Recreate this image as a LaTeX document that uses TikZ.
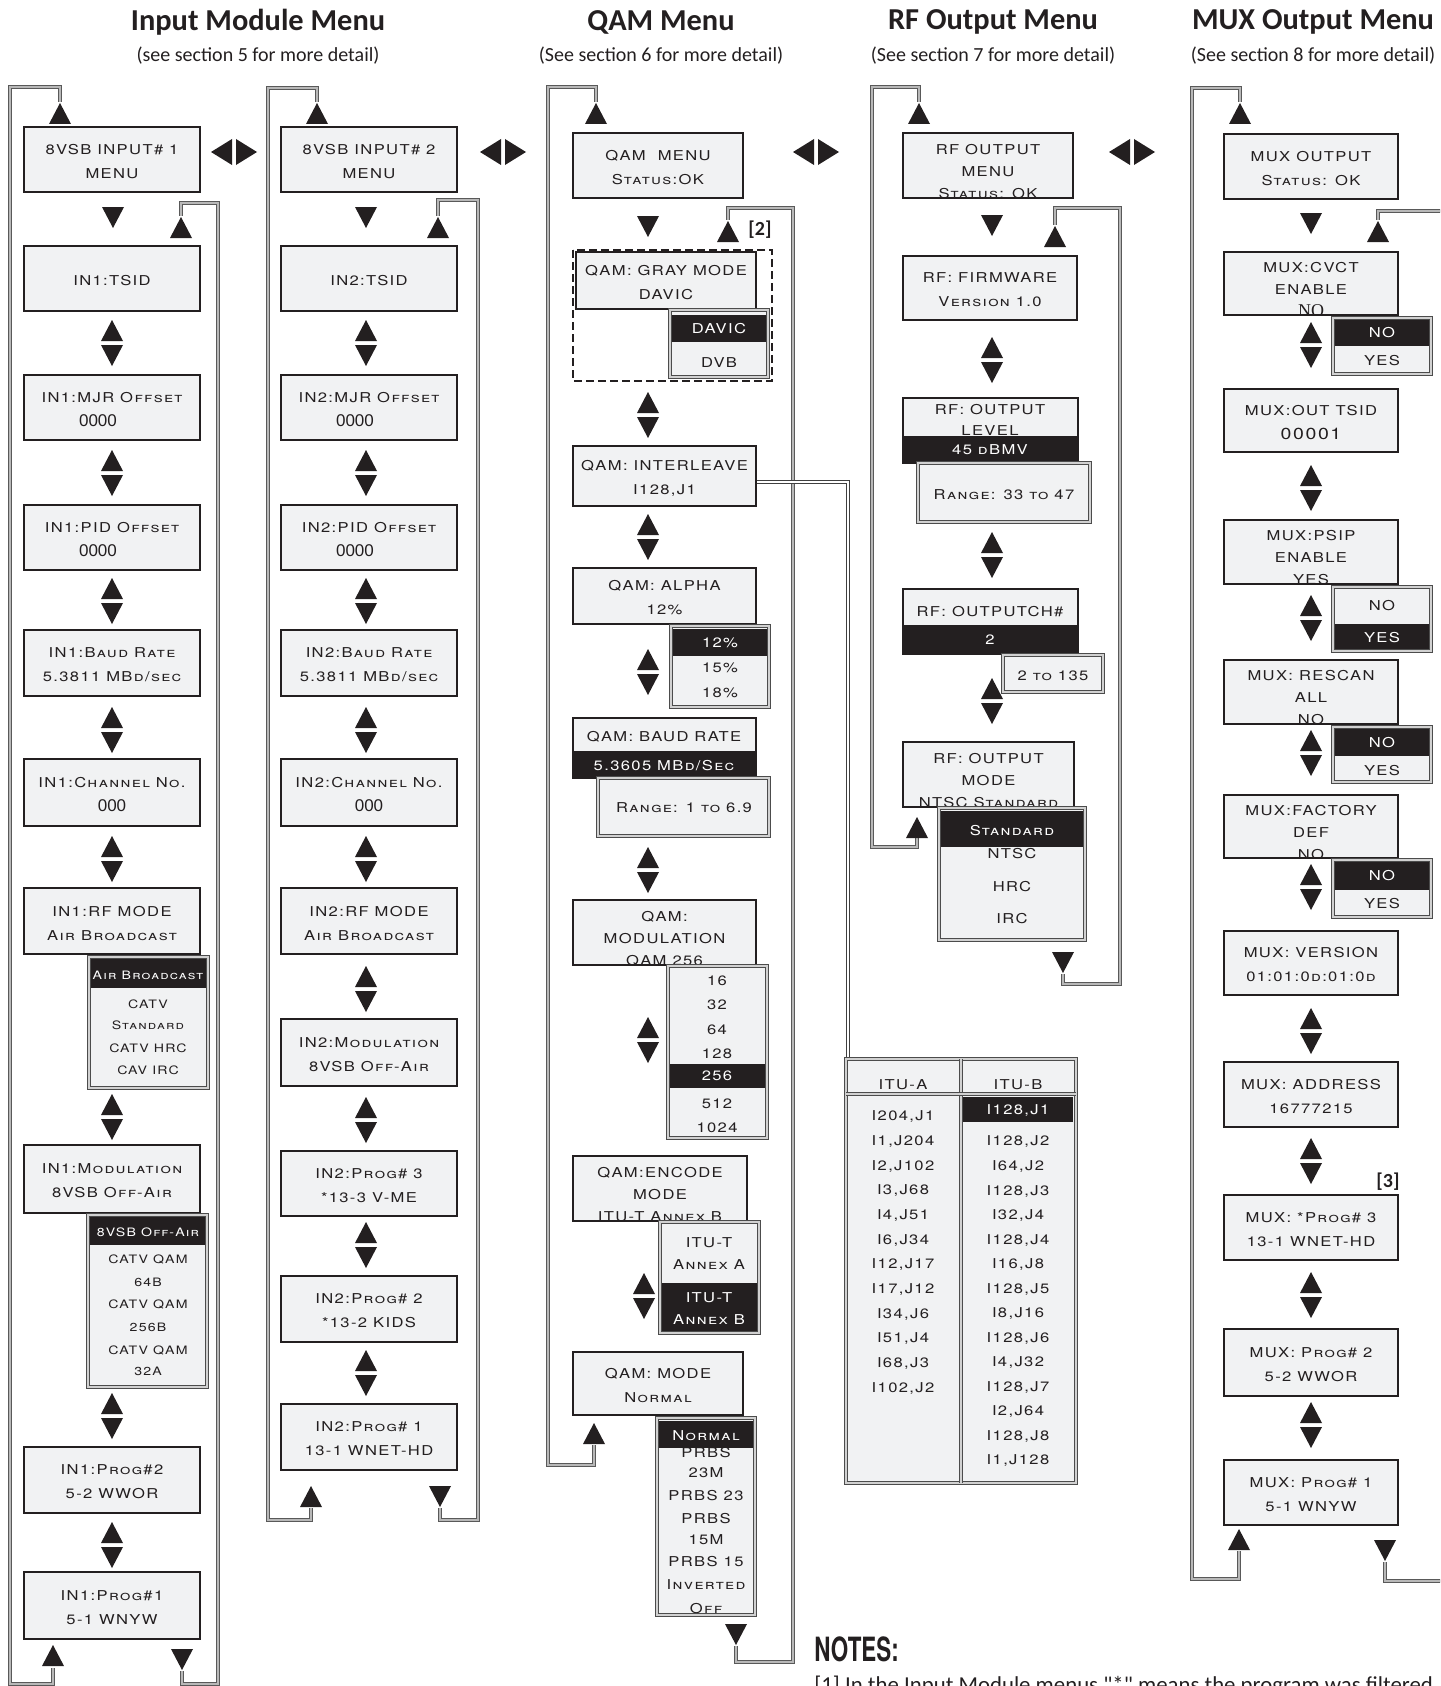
\documentclass[tikz,border=0pt]{standalone}
\usepackage{fontspec}
\usepackage{graphicx}
\newfontfamily\lcdfont[LetterSpace=10,FakeStretch=1.22]{TeX Gyre Heros}
\newfontfamily\carl{Carlito}
\newfontfamily\serfont{Liberation Serif}
\newfontfamily\arialf{Liberation Sans}
\newfontfamily\heavy{TeX Gyre Heros}
\definecolor{lcdbg}{HTML}{F1F2F3}
\definecolor{ink}{HTML}{231F20}
\tikzset{
 lcdline/.style={draw=ink, line width=1.3pt},
 txt/.style={font=\lcdfont\fontsize{6.8}{12}\selectfont\scshape, inner sep=0pt, align=center, text=ink},
 three/.style={font=\lcdfont\fontsize{6.8}{11}\selectfont\scshape},
 smalltxt/.style={font=\lcdfont\fontsize{5.8}{10}\selectfont\scshape},
 wt/.style={text=white},
 ddline/.style={draw=black!70, double=black!18, line width=0.45pt, double distance=0.9pt},
 loopline/.style={draw=black!65, double=black!28, line width=0.4pt, double distance=1.2pt},
 tri/.style={fill=ink},
 title/.style={font=\carl\bfseries\fontsize{15.2}{18}\selectfont, text=ink, inner sep=0pt},
 subtitle/.style={font=\carl\fontsize{10}{12}\selectfont, text=ink, inner sep=0pt},
 conn/.style={draw=black!75, double=white, line width=0.45pt, double distance=1.1pt},
 refmark/.style={font=\carl\bfseries\fontsize{10}{12}\selectfont, text=ink, inner sep=0pt},
}
\newcommand\lcdbox[7][]{%
 \fill[lcdbg] (#3,#4) rectangle (#5,#6);
 \begin{scope}
 \clip (#3,#4) rectangle (#5,#6);
 \node[txt,yshift=-1pt,#1] (#2) at ({(#3+#5)/2},{(#4+#6)/2}) {#7};
 \end{scope}
 \draw[lcdline] (#3,#4) rectangle (#5,#6);}
\newcommand\dd[6]{%
 \fill[lcdbg] (#1,#2) rectangle (#3,#4);
 \fill[ink] (#1,#5) rectangle (#3,#6);
 \draw[ddline] (#1,#2) rectangle (#3,#4);}
\newcommand\ditem[5][]{\node[txt,#1] (#2) at (#3,#4) {#5};}
\newcommand\tup[2]{\fill[tri] ({#1-11},{#2+21}) -- ({#1+11},{#2+21}) -- (#1,{#2}) -- cycle;}
\newcommand\tdn[2]{\fill[tri] ({#1-11},{#2}) -- ({#1+11},{#2}) -- (#1,{#2+21}) -- cycle;}
\newcommand\tud[2]{\tup{#1}{#2}\tdn{#1}{#2+25}}
\newcommand\tlr[2]{\fill[tri] ({#1-2},{#2-13}) -- ({#1-2},{#2+13}) -- ({#1-23},{#2}) -- cycle;
 \fill[tri] ({#1+2},{#2-13}) -- ({#1+2},{#2+13}) -- ({#1+23},{#2}) -- cycle;}
\newcommand\zz{\upshape\arialf\fontsize{8.5}{12}\selectfont}
\begin{document}
\begin{tikzpicture}[x=0.5pt,y=-0.5pt]
\useasboundingbox (0,0) rectangle (1440,1686);
\clip (0,0) rectangle (1440,1686);
% titles
\node[title] (t1) at (258,22) {Input Module Menu};
\node[subtitle] (s1) at (258,56) {(see section 5 for more detail)};
\node[title] (t2) at (661,22) {QAM Menu};
\node[subtitle] (s2) at (661,56) {(See section 6 for more detail)};
\node[title] (t3) at (993,22) {RF Output Menu};
\node[subtitle] (s3) at (993,56) {(See section 7 for more detail)};
\node[title] (t4) at (1313,22) {MUX Output Menu};
\node[subtitle] (s4) at (1313,56) {(See section 8 for more detail)};
% loops
\draw[loopline] (60,102) -- (60,87) -- (10,87) -- (10,1684) -- (53,1684) -- (53,1668);
\draw[loopline] (182,1671) -- (182,1684) -- (218,1684) -- (218,203) -- (181,203) -- (181,216);
\draw[loopline] (317,102) -- (317,88) -- (268,88) -- (268,1520) -- (311,1520) -- (311,1508);
\draw[loopline] (440,1508) -- (440,1520) -- (478,1520) -- (478,200) -- (438,200) -- (438,216);
\draw[loopline] (596,102) -- (596,87) -- (548,87) -- (548,1465) -- (594,1465) -- (594,1445);
\draw[loopline] (736,1646) -- (736,1662) -- (793,1662) -- (793,208) -- (728,208) -- (728,220);
\draw[loopline] (919,102) -- (919,87) -- (872,87) -- (872,847) -- (917,847) -- (917,838);
\draw[loopline] (1063,974) -- (1063,984) -- (1120,984) -- (1120,208) -- (1055,208) -- (1055,225);
\draw[loopline] (1240,102) -- (1240,88) -- (1192,88) -- (1192,1579) -- (1239,1579) -- (1239,1551);
\draw[loopline] (1378,220) -- (1378,211) -- (1460,211);
\draw[loopline] (1385,1562) -- (1385,1581) -- (1460,1581);
% interleave connector
\coordinate (q3r) at (756,482);
\coordinate (tabtop) at (848,1059);
\draw[conn] (q3r) -| (tabtop);
% ===== column 1
\lcdbox{a1}{24}{127}{200}{192}{8VSB INPUT\# 1\\MENU}
\lcdbox{a2}{24}{246}{200}{311}{IN1:TSID}
\lcdbox{a3}{24}{375}{200}{440}{IN1:MJR Offset\\\hspace*{-14pt}{\zz 0000}}
\lcdbox{a4}{24}{505}{200}{570}{IN1:PID Offset\\\hspace*{-14pt}{\zz 0000}}
\lcdbox{a5}{24}{630}{200}{696}{IN1:Baud Rate\\5.3811 MBd/sec}
\lcdbox{a6}{24}{759}{200}{826}{IN1:Channel No.\\{\zz 000}}
\lcdbox{a7}{24}{888}{200}{954}{IN1:RF MODE\\Air Broadcast}
\dd{89}{957}{208}{1088}{959}{988}
\ditem[smalltxt,wt]{a7d1}{148}{975}{Air Broadcast}
\ditem[smalltxt]{a7d2}{148}{1004}{CATV}
\ditem[smalltxt]{a7d3}{148}{1025}{Standard}
\ditem[smalltxt]{a7d4}{148}{1048}{CATV HRC}
\ditem[smalltxt]{a7d5}{148}{1070}{CAV IRC}
\lcdbox{a8}{24}{1145}{200}{1213}{IN1:Modulation\\8VSB Off-Air}
\dd{88}{1215}{207}{1387}{1217}{1245}
\ditem[smalltxt,wt]{a8d1}{148}{1232}{8VSB Off-Air}
\ditem[smalltxt]{a8d2}{148}{1259}{CATV QAM}
\ditem[smalltxt]{a8d3}{148}{1282}{64B}
\ditem[smalltxt]{a8d4}{148}{1304}{CATV QAM}
\ditem[smalltxt]{a8d5}{148}{1327}{256B}
\ditem[smalltxt]{a8d6}{148}{1350}{CATV QAM}
\ditem[smalltxt]{a8d7}{148}{1371}{32A}
\lcdbox{a9}{24}{1447}{200}{1513}{IN1:Prog\#2\\5-2 WWOR}
\lcdbox{a10}{24}{1572}{200}{1639}{IN1:Prog\#1\\5-1 WNYW}
\tup{60}{103}\tdn{113}{207}\tup{181}{217}
\tud{112}{320}\tud{112}{450}\tud{112}{578}\tud{112}{707}\tud{112}{836}
\tud{112}{1094}\tud{112}{1393}\tud{112}{1522}
\tup{53}{1645}\tdn{182}{1649}
\tlr{234}{152}
% ===== column 2
\lcdbox{b1}{281}{127}{457}{192}{8VSB INPUT\# 2\\MENU}
\lcdbox{b2}{281}{246}{457}{311}{IN2:TSID}
\lcdbox{b3}{281}{375}{457}{440}{IN2:MJR Offset\\\hspace*{-14pt}{\zz 0000}}
\lcdbox{b4}{281}{505}{457}{570}{IN2:PID Offset\\\hspace*{-14pt}{\zz 0000}}
\lcdbox{b5}{281}{630}{457}{696}{IN2:Baud Rate\\5.3811 MBd/sec}
\lcdbox{b6}{281}{759}{457}{826}{IN2:Channel No.\\{\zz 000}}
\lcdbox{b7}{281}{888}{457}{954}{IN2:RF MODE\\Air Broadcast}
\lcdbox{b8}{281}{1019}{457}{1086}{IN2:Modulation\\8VSB Off-Air}
\lcdbox{b9}{281}{1151}{457}{1216}{IN2:Prog\# 3\\*13-3 V-ME}
\lcdbox{b10}{281}{1276}{457}{1342}{IN2:Prog\# 2\\*13-2 KIDS}
\lcdbox{b11}{281}{1404}{457}{1470}{IN2:Prog\# 1\\13-1 WNET-HD}
\tup{317}{103}\tdn{366}{207}\tup{438}{217}
\tud{366}{320}\tud{366}{450}\tud{366}{578}\tud{366}{707}\tud{366}{836}
\tud{366}{966}\tud{366}{1097}\tud{366}{1222}\tud{366}{1350}
\tup{311}{1486}\tdn{440}{1486}
\tlr{503}{152}
% ===== QAM column
\lcdbox{q1}{573}{133}{743}{198}{QAM\ \ MENU\\Status:OK}
\draw[ink, line width=0.8pt, dash pattern=on 4pt off 2pt] (573,250) rectangle (772,381);
\lcdbox{q2}{576}{252}{756}{309}{QAM: GRAY MODE\\DAVIC}
\dd{670}{310}{768}{377}{315}{342}
\ditem[wt]{q2d1}{719}{329}{DAVIC}
\ditem{q2d2}{719}{363}{DVB}
\lcdbox{q3}{573}{446}{756}{506}{QAM: INTERLEAVE\\I128,J1}
\lcdbox{q4}{573}{568}{756}{624}{QAM: ALPHA\\12\%}
\dd{671}{626}{769}{707}{629}{656}
\ditem[wt]{q4d1}{720}{643}{12\%}
\ditem{q4d2}{720}{668}{15\%}
\ditem{q4d3}{720}{693}{18\%}
\fill[lcdbg] (573,718) rectangle (756,778);
\node[txt] (q5a) at (664,737) {QAM: BAUD RATE};
\fill[ink] (573,751) rectangle (756,778);
\node[txt,wt] (q5b) at (664,766) {5.3605 MBd/Sec};
\draw[lcdline] (573,718) rectangle (756,778);
\dd{598}{778}{769}{836}{778}{778}
\ditem{q5d}{684}{808}{Range: 1 to 6.9}
\lcdbox[three,yshift=-2pt]{q6}{573}{900}{756}{965}{QAM:\\MODULATION\\QAM 256}
\dd{668}{966}{767}{1138}{1064}{1088}
\ditem{q6d1}{717}{981}{16}
\ditem{q6d2}{717}{1005}{32}
\ditem{q6d3}{717}{1030}{64}
\ditem{q6d4}{717}{1054}{128}
\ditem[wt]{q6d5}{717}{1076}{256}
\ditem{q6d6}{717}{1104}{512}
\ditem{q6d7}{717}{1128}{1024}
\lcdbox[three,yshift=-2pt]{q7}{573}{1156}{747}{1221}{QAM:ENCODE\\MODE\\ITU-T Annex B}
\dd{660}{1222}{759}{1333}{1283}{1333}
\ditem[three]{q7d1}{709}{1254}{ITU-T\\Annex A}
\ditem[three,wt]{q7d2}{709}{1309}{ITU-T\\Annex B}
\draw[ddline] (660,1222) rectangle (759,1333);
\lcdbox{q8}{573}{1352}{743}{1415}{QAM: MODE\\Normal}
\fill[lcdbg] (657,1418) rectangle (755,1615);
\begin{scope}
\clip (657,1418) rectangle (755,1615);
\ditem{q8d2}{706}{1453}{PRBS}
\ditem{q8d3}{706}{1473}{23M}
\ditem{q8d4}{706}{1496}{PRBS 23}
\ditem{q8d5}{706}{1519}{PRBS}
\ditem{q8d6}{706}{1540}{15M}
\ditem{q8d7}{706}{1562}{PRBS 15}
\ditem{q8d8}{706}{1585}{Inverted}
\ditem{q8d9}{706}{1609}{Off}
\end{scope}
\fill[ink] (657,1421) rectangle (755,1448);
\ditem[wt]{q8d1}{706}{1436}{Normal}
\draw[ddline] (657,1418) rectangle (755,1615);
\tup{596}{103}\tdn{648}{216}\tup{728}{221}
\node[refmark] (m2) at (760,230) {[2]};
\tud{648}{392}\tud{648}{514}\tud{648}{649}\tud{648}{847}\tud{648}{1017}\tud{644}{1273}
\tup{594}{1423}\tdn{736}{1624}
\tlr{816}{152}
% ITU table
\fill[lcdbg] (846,1059) rectangle (1076,1483);
\fill[ink] (963,1097) rectangle (1073,1122);
\draw[ddline] (846,1059) rectangle (1076,1483);
\draw[ddline] (961,1059) -- (961,1483);
\draw[ddline] (846,1094) -- (1076,1094);
\node[txt] (ha) at (903,1085) {ITU-A};
\node[txt] (hb) at (1018,1085) {ITU-B};
\foreach \a/\b [count=\i] in {204/1,1/204,2/102,3/68,4/51,6/34,12/17,17/12,34/6,51/4,68/3,102/2}
 {\node[txt] (ta\i) at (903,{1117+(\i-1)*24.64}) {I\a,J\b};}
\node[txt,wt] (tb1) at (1018,1111) {I128,J1};
\foreach \a/\b [count=\i] in {128/2,64/2,128/3,32/4,128/4,16/8,128/5,8/16,128/6,4/32,128/7,2/64,128/8,1/128}
 {\node[txt] (tbx\i) at (1018,{1142+(\i-1)*24.54}) {I\a,J\b};}
% ===== RF column
\lcdbox[three,yshift=-2pt]{r1}{903}{133}{1073}{198}{RF OUTPUT\\MENU\\Status: OK}
\lcdbox{r2}{903}{256}{1077}{320}{RF: FIRMWARE\\Version\ 1.0}
\fill[lcdbg] (903,398) rectangle (1078,463);
\node[txt] (r3a) at (990,410) {RF: OUTPUT};
\node[txt] (r3b) at (990,431) {LEVEL};
\fill[ink] (903,436) rectangle (1078,463);
\node[txt,wt] (r3c) at (990,450) {45 dBMV};
\draw[lcdline] (903,398) rectangle (1078,463);
\dd{918}{463}{1090}{522}{463}{463}
\ditem{r3d}{1004}{495}{Range: 33 to 47}
\fill[lcdbg] (903,589) rectangle (1078,654);
\node[txt] (r4a) at (990,612) {RF: OUTPUTCH\#};
\fill[ink] (903,625) rectangle (1078,654);
\node[txt,wt] (r4b) at (990,640) {2};
\draw[lcdline] (903,589) rectangle (1078,654);
\dd{1003}{655}{1103}{692}{655}{655}
\ditem{r4d}{1053}{676}{2 to 135}
\lcdbox[three,yshift=-2pt]{r5}{903}{742}{1074}{807}{RF: OUTPUT\\MODE\\NTSC Standard}
\dd{939}{808}{1085}{940}{811}{847}
\ditem[wt]{r5d1}{1012}{831}{Standard}
\ditem{r5d2}{1012}{854}{NTSC}
\ditem{r5d3}{1012}{887}{HRC}
\ditem{r5d4}{1012}{919}{IRC}
\tup{919}{103}\tdn{992}{215}\tup{1055}{226}
\tud{992}{337}\tud{992}{532}\tud{992}{678}
\tup{917}{817}\tdn{1063}{952}
\tlr{1132}{152}
% ===== MUX column
\lcdbox{m1}{1224}{134}{1398}{199}{MUX OUTPUT\\Status: OK}
\lcdbox[three,yshift=-2pt]{m2}{1224}{252}{1398}{315}{MUX:CVCT\\ENABLE\\{\upshape\serfont\fontsize{9}{11}\selectfont NO}}
\dd{1333}{318}{1431}{374}{320}{346}
\ditem[wt]{m2d1}{1382}{333}{NO}
\ditem{m2d2}{1382}{361}{YES}
\lcdbox{m3}{1224}{389}{1398}{452}{MUX:OUT TSID\\{\fontsize{8}{12}\selectfont 00001}}
\lcdbox[three,yshift=-2pt]{m4}{1224}{520}{1398}{584}{MUX:PSIP\\ENABLE\\YES}
\dd{1333}{587}{1431}{651}{624}{651}
\ditem{m4d1}{1382}{606}{NO}
\ditem[wt]{m4d2}{1382}{638}{YES}
\lcdbox[three,yshift=-2pt]{m5}{1224}{660}{1398}{724}{MUX: RESCAN\\ALL\\NO}
\dd{1333}{727}{1431}{782}{729}{756}
\ditem[wt]{m5d1}{1382}{743}{NO}
\ditem{m5d2}{1382}{771}{YES}
\lcdbox[three,yshift=-2pt]{m6}{1224}{795}{1398}{858}{MUX:FACTORY\\DEF\\NO}
\dd{1333}{860}{1431}{917}{862}{890}
\ditem[wt]{m6d1}{1382}{876}{NO}
\ditem{m6d2}{1382}{904}{YES}
\lcdbox{m7}{1224}{931}{1398}{995}{MUX: VERSION\\01:01:0d:01:0d}
\lcdbox{m8}{1224}{1062}{1398}{1127}{MUX: ADDRESS\\16777215}
\node[refmark] (m3r) at (1388,1182) {[3]};
\lcdbox{m9}{1224}{1195}{1398}{1260}{MUX: *Prog\# 3\\13-1 WNET-HD}
\lcdbox{m10}{1224}{1329}{1398}{1396}{MUX: Prog\# 2\\5-2 WWOR}
\lcdbox{m11}{1224}{1460}{1398}{1525}{MUX: Prog\# 1\\5-1 WNYW}
\tup{1240}{103}\tdn{1311}{213}\tup{1378}{221}
\tud{1311}{322}\tud{1311}{465}\tud{1311}{595}\tud{1311}{730}\tud{1311}{864}
\tud{1311}{1008}\tud{1311}{1138}\tud{1311}{1272}\tud{1311}{1402}
\tup{1239}{1529}\tdn{1385}{1540}
% notes
\node[anchor=west, inner sep=0pt, text=ink, font=\heavy\bfseries\fontsize{16.7}{20}\selectfont] (notes) at (814,1649) {\scalebox{0.67}[1]{NOTES:}};
\node[anchor=base west, inner sep=0pt, text=ink, font=\carl\fontsize{11.4}{13}\selectfont] (note1) at (814,1692) {[1] In the Input Module menus "*" means the program was filtered};
\end{tikzpicture}
\end{document}
